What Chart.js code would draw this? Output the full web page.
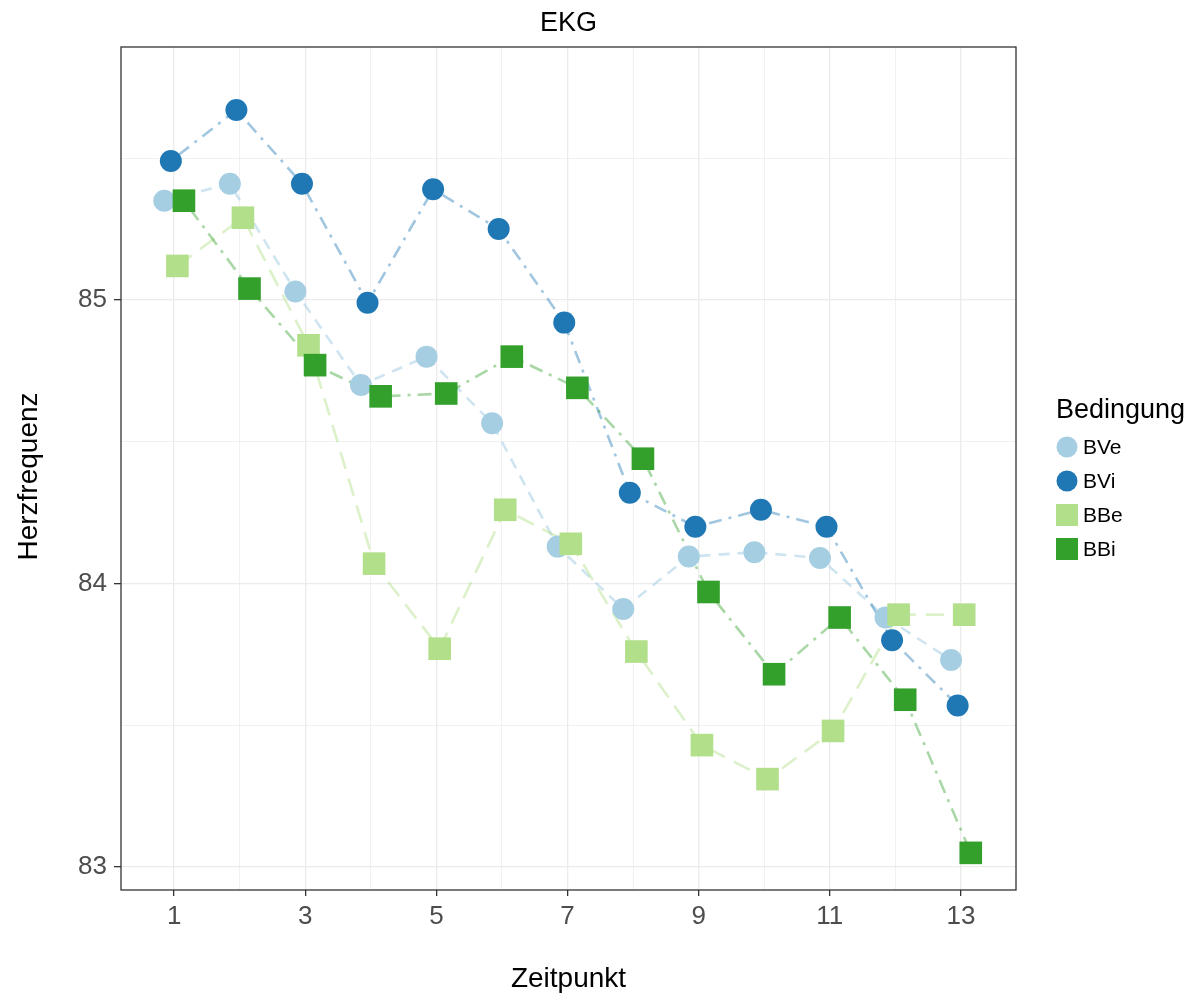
<!DOCTYPE html>
<html>
<head>
<meta charset="utf-8">
<script src="https://cdn.jsdelivr.net/npm/chart.js@4.4.1/dist/chart.umd.min.js"></script>
<style>
  html, body { margin: 0; padding: 0; background: #ffffff; }
  #wrap { width: 1196px; height: 994px; position: relative; }
</style>
</head>
<body>
<div id="wrap"><canvas id="c" width="1196" height="994"></canvas></div>
<script>
// ---- data ----
const timepoints = [1, 2, 3, 4, 5, 6, 7, 8, 9, 10, 11, 12, 13];
const seriesNames = ['BVe', 'BVi', 'BBe', 'BBi'];
const BVe = [85.35, 85.41, 85.03, 84.70, 84.80, 84.565, 84.13, 83.91, 84.095, 84.11, 84.09, 83.88, 83.73];
const BVi = [85.49, 85.67, 85.41, 84.99, 85.39, 85.25, 84.92, 84.32, 84.20, 84.26, 84.20, 83.80, 83.57];
const BBe = [85.12, 85.29, 84.84, 84.07, 83.77, 84.26, 84.14, 83.76, 83.43, 83.31, 83.48, 83.89, 83.89];
const BBi = [85.35, 85.04, 84.77, 84.66, 84.67, 84.80, 84.69, 84.44, 83.97, 83.68, 83.88, 83.59, 83.05];
const xTickLabels = [1, 3, 5, 7, 9, 11, 13];
const yTickLabels = [83, 84, 85];
const titleText = 'EKG';
const xTitle = 'Zeitpunkt';
const yTitle = 'Herzfrequenz';
const legendTitle = 'Bedingung';

// ---- styles ----
const FONT = '"Liberation Sans", Arial, Helvetica, sans-serif';
const colors = ['#a6cee3', '#1f78b4', '#b2df8a', '#33a02c'];
const lineColors = ['rgba(166,206,227,0.55)', 'rgba(31,120,180,0.42)', 'rgba(178,223,138,0.45)', 'rgba(51,160,44,0.42)'];
const dashes = [[11, 8], [3, 7, 13, 7], [18, 10], [3, 7, 14, 7]];
const shapes = ['circle', 'circle', 'rect', 'rect'];
const radii = [11, 11, 16, 16];
const dodge = [-0.15, -0.05, 0.05, 0.15];
const allValues = [BVe, BVi, BBe, BBi];

const datasets = [];
allValues.forEach((vals, i) => {
  const pts = timepoints.map((t, k) => ({ x: t + dodge[i], y: vals[k] }));
  datasets.push({
    label: seriesNames[i] + ' line',
    data: pts,
    showLine: true,
    borderColor: lineColors[i],
    borderWidth: 2.6,
    borderDash: dashes[i],
    pointRadius: 0,
    pointHoverRadius: 0,
    fill: false,
    tension: 0,
    order: 20 - i
  });
});
allValues.forEach((vals, i) => {
  const pts = timepoints.map((t, k) => ({ x: t + dodge[i], y: vals[k] }));
  datasets.push({
    label: seriesNames[i],
    data: pts,
    showLine: false,
    backgroundColor: colors[i],
    borderColor: colors[i],
    borderWidth: 0,
    pointStyle: shapes[i],
    pointRadius: radii[i],
    pointHoverRadius: radii[i],
    order: 10 - i
  });
});

const isMajorX = v => xTickLabels.includes(v);
const isMajorY = v => yTickLabels.includes(v);

const decor = {
  id: 'decor',
  afterDraw(chart) {
    const ctx = chart.ctx;
    const a = chart.chartArea;
    ctx.save();
    // panel border
    ctx.strokeStyle = '#333333';
    ctx.lineWidth = 1.3;
    ctx.strokeRect(a.left, a.top, a.right - a.left, a.bottom - a.top);
    // title
    ctx.fillStyle = '#000000';
    ctx.font = '27px ' + FONT;
    ctx.textAlign = 'center';
    ctx.textBaseline = 'alphabetic';
    ctx.fillText(titleText, (a.left + a.right) / 2, 31);
    // x axis title
    ctx.font = '28px ' + FONT;
    ctx.fillText(xTitle, (a.left + a.right) / 2, 987);
    // y axis title
    ctx.save();
    ctx.translate(37, (a.top + a.bottom) / 2 + 8);
    ctx.rotate(-Math.PI / 2);
    ctx.fillText(yTitle, 0, 0);
    ctx.restore();
    // legend
    ctx.textAlign = 'left';
    ctx.textBaseline = 'middle';
    ctx.font = '27px ' + FONT;
    ctx.fillText(legendTitle, 1056, 411);
    ctx.font = '21px ' + FONT;
    const ys = [447, 481, 515, 549];
    seriesNames.forEach((n, i) => {
      ctx.fillStyle = colors[i];
      if (shapes[i] === 'circle') {
        ctx.beginPath();
        ctx.arc(1067, ys[i], 10.5, 0, Math.PI * 2);
        ctx.fill();
      } else {
        ctx.fillRect(1056, ys[i] - 11, 22, 22);
      }
      ctx.fillStyle = '#000000';
      ctx.fillText(n, 1083, ys[i] + 1);
    });
    ctx.restore();
  }
};

new Chart(document.getElementById('c'), {
  type: 'scatter',
  data: { datasets },
  options: {
    responsive: false,
    animation: false,
    events: [],
    layout: { padding: { left: 0, right: 180, top: 47, bottom: 0 } },
    plugins: { legend: { display: false }, title: { display: false }, tooltip: { enabled: false } },
    scales: {
      x: {
        type: 'linear',
        min: 0.19,
        max: 13.84,
        afterBuildTicks: s => { s.ticks = timepoints.map(v => ({ value: v })); },
        afterFit: s => { s.height = 104; },
        ticks: {
          autoSkip: false,
          maxRotation: 0,
          padding: 5,
          color: '#4d4d4d',
          font: { family: FONT, size: 26 },
          callback: v => (isMajorX(v) ? String(v) : '')
        },
        grid: {
          color: '#ebebeb',
          lineWidth: c => (isMajorX(c.tick.value) ? 1.3 : 0.7),
          tickColor: c => (isMajorX(c.tick.value) ? '#333333' : 'rgba(0,0,0,0)'),
          tickLength: 6,
          tickWidth: 1.3
        },
        border: { display: false }
      },
      y: {
        type: 'linear',
        min: 82.919,
        max: 85.892,
        afterBuildTicks: s => { s.ticks = [83, 83.5, 84, 84.5, 85, 85.5].map(v => ({ value: v })); },
        afterFit: s => { s.width = 121; },
        ticks: {
          autoSkip: false,
          padding: 7,
          color: '#4d4d4d',
          font: { family: FONT, size: 26 },
          callback: v => (isMajorY(v) ? String(v) : '')
        },
        grid: {
          color: '#ebebeb',
          lineWidth: c => (isMajorY(c.tick.value) ? 1.3 : 0.7),
          tickColor: c => (isMajorY(c.tick.value) ? '#333333' : 'rgba(0,0,0,0)'),
          tickLength: 7,
          tickWidth: 1.3
        },
        border: { display: false }
      }
    }
  },
  plugins: [decor]
});
</script>
</body>
</html>
